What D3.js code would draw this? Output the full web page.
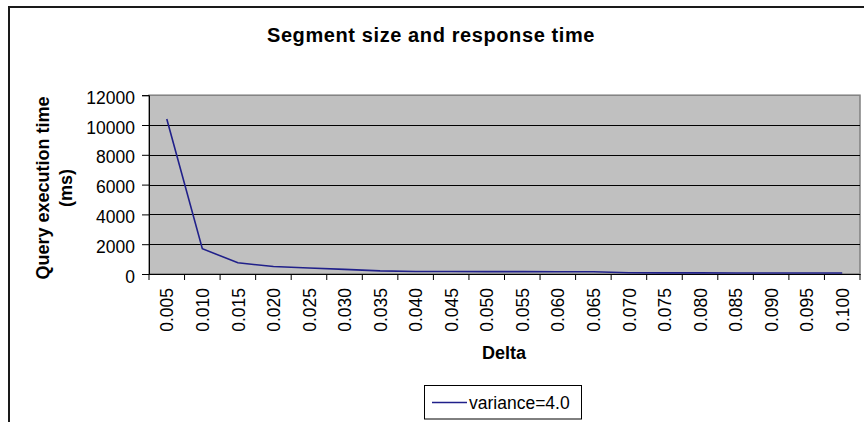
<!DOCTYPE html>
<html>
<head>
<meta charset="utf-8">
<script src="https://cdn.jsdelivr.net/npm/d3@7"></script>
<style>
  body { margin: 0; background: #fff; }
  svg { display: block; font-family: "Liberation Sans", Arial, sans-serif; }
</style>
</head>
<body>
<svg id="chart" width="864" height="422"></svg>
<script>
// values
const categories = ["0.005", "0.010", "0.015", "0.020", "0.025", "0.030", "0.035", "0.040", "0.045", "0.050",
                    "0.055", "0.060", "0.065", "0.070", "0.075", "0.080", "0.085", "0.090", "0.095", "0.100"];
const responseTime = [10400, 1700, 750, 500, 400, 310, 210, 170, 165, 160,
                      160, 155, 155, 80, 75, 75, 70, 70, 70, 70];
const yTicks = [0, 2000, 4000, 6000, 8000, 10000, 12000];
const seriesName = "variance=4.0";

const svg = d3.select("#chart");

// outer chart frame (runs off the right and bottom edge)
svg.append("rect")
  .attr("x", 9).attr("y", 7)
  .attr("width", 870).attr("height", 430)
  .attr("fill", "#fff")
  .attr("stroke", "#1a1a1a")
  .attr("stroke-width", 2);

const plot = { left: 149, right: 860, top: 95.2, bottom: 274 };

const x = d3.scaleBand().domain(categories).range([plot.left, plot.right]).padding(0);
const y = d3.scaleLinear().domain([0, 12000]).range([plot.bottom, plot.top]);

// grey plot area
svg.append("rect")
  .attr("x", plot.left).attr("y", plot.top)
  .attr("width", plot.right - plot.left).attr("height", plot.bottom - plot.top)
  .attr("fill", "#c0c0c0")
  .attr("stroke", "#808080")
  .attr("stroke-width", 1.5);

// horizontal gridlines
svg.append("g")
  .selectAll("line")
  .data(yTicks.filter(d => d > 0 && d < 12000))
  .join("line")
  .attr("x1", plot.left).attr("x2", plot.right)
  .attr("y1", d => Math.round(y(d)) + 0.5).attr("y2", d => Math.round(y(d)) + 0.5)
  .attr("stroke", "#000")
  .attr("stroke-width", 1);

// y axis
const yAxis = svg.append("g")
  .attr("transform", `translate(${plot.left},0)`)
  .call(d3.axisLeft(y).tickValues(yTicks).tickSize(7).tickPadding(7).tickFormat(d3.format("d")));
yAxis.select(".domain").attr("stroke", "#000");
yAxis.selectAll(".tick line").attr("stroke", "#000");
yAxis.selectAll("text")
  .attr("font-size", 17.5)
  .attr("fill", "#000")
  .attr("dy", "0.46em");

// x axis: labels at band centres, ticks at band edges
const xAxis = svg.append("g")
  .attr("transform", `translate(0,${plot.bottom})`)
  .call(d3.axisBottom(x).tickSize(0).tickPadding(0));
xAxis.select(".domain").attr("stroke", "#000");
xAxis.selectAll("text")
  .attr("font-size", 17.5)
  .attr("fill", "#000")
  .attr("text-anchor", "end")
  .attr("transform", "translate(0,14) rotate(-90)")
  .attr("x", 0)
  .attr("y", 0)
  .attr("dy", "0.38em");

const edges = categories.map(c => x(c)).concat([plot.right]);
svg.append("g")
  .selectAll("line")
  .data(edges)
  .join("line")
  .attr("x1", d => d).attr("x2", d => d)
  .attr("y1", plot.bottom).attr("y2", plot.bottom + 6)
  .attr("stroke", "#000");

// the series
const line = d3.line()
  .x((d, i) => x(categories[i]) + x.bandwidth() / 2)
  .y(d => y(d));

svg.append("path")
  .datum(responseTime)
  .attr("d", line)
  .attr("fill", "none")
  .attr("stroke", "#20208a")
  .attr("stroke-width", 1.6);

// titles
svg.append("text")
  .attr("x", 431).attr("y", 42)
  .attr("text-anchor", "middle")
  .attr("font-size", 20)
  .attr("font-weight", "bold")
  .attr("letter-spacing", 0.6)
  .text("Segment size and response time");

svg.append("text")
  .attr("x", 504).attr("y", 359)
  .attr("text-anchor", "middle")
  .attr("font-size", 18)
  .attr("font-weight", "bold")
  .text("Delta");

const yTitle = svg.append("text")
  .attr("transform", "translate(49,188) rotate(-90)")
  .attr("text-anchor", "middle")
  .attr("font-size", 18)
  .attr("font-weight", "bold");
yTitle.append("tspan").attr("x", 0).attr("y", 0).text("Query execution time");
yTitle.append("tspan").attr("x", 0).attr("y", 23).text("(ms)");

// legend
const legend = svg.append("g");
legend.append("rect")
  .attr("x", 424.5).attr("y", 385.5)
  .attr("width", 157).attr("height", 33.5)
  .attr("fill", "#fff")
  .attr("stroke", "#000");
legend.append("line")
  .attr("x1", 432).attr("x2", 467)
  .attr("y1", 402.5).attr("y2", 402.5)
  .attr("stroke", "#20208a")
  .attr("stroke-width", 1.6);
legend.append("text")
  .attr("x", 469).attr("y", 408.5)
  .attr("font-size", 17.5)
  .text(seriesName);
</script>
</body>
</html>
